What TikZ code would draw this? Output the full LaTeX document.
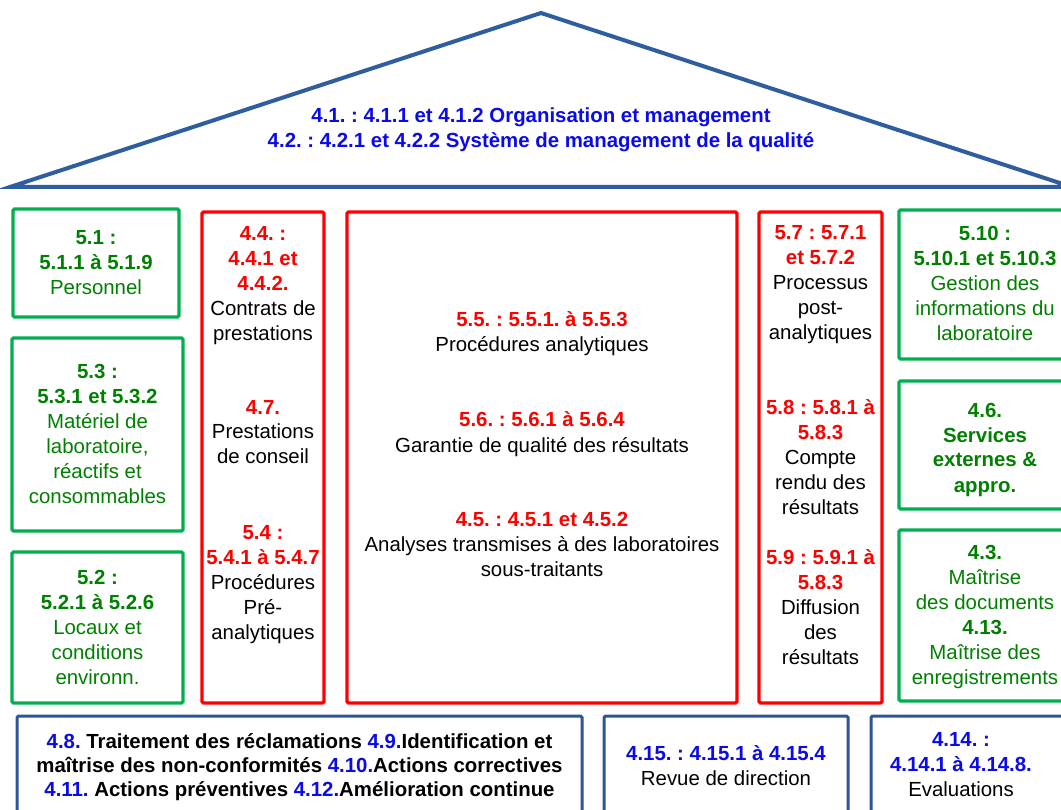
\documentclass[tikz,border=0pt]{standalone}
\usepackage{fontspec}
\setmainfont{Liberation Sans}
\frenchspacing
\definecolor{roofline}{RGB}{46,94,160}
\definecolor{bline}{RGB}{47,85,151}
\definecolor{gline}{RGB}{0,176,80}
\definecolor{gtext}{RGB}{0,128,0}
\definecolor{rtext}{RGB}{255,0,0}
\definecolor{btext}{RGB}{10,10,235}
\newcommand\redb[1]{{\color{rtext}\bfseries #1}}
\newcommand\grnb[1]{{\bfseries #1}}
\newcommand\blub[1]{{\color{btext}#1}}
\begin{document}
\begin{tikzpicture}[x=1pt,y=-1pt,
  framebox/.style={draw, line width=3.3pt, rounded corners=1.5pt, inner sep=0pt},
  gbox/.style={framebox, draw=gline},
  rbox/.style={framebox, draw=rtext},
  bbox/.style={framebox, draw=bline, line width=3pt},
  roof/.style={draw=roofline, line width=4pt},
  txt/.style={anchor=base, align=center, inner sep=0pt, font=\fontsize{20.4}{25}\selectfont\frenchspacing},
  btxt/.style={txt, font=\fontsize{20.4}{25}\selectfont\bfseries\frenchspacing},
  gtxt/.style={txt, text=gtext},
  ktxt/.style={txt, text=black}]
\clip (0,0) rectangle (1061,810);
\fill[white] (0,0) rectangle (1061,810);

% roof
\coordinate (apex) at (541,13);
\coordinate (bl) at (10,187);
\coordinate (br) at (1072,187);
\draw[roof] (apex) -- (bl) -- (br) -- cycle;
\node[btxt, text=btext] (rooftxt) at (541,148) {4.1. : 4.1.1 et 4.1.2 Organisation et management\\4.2. : 4.2.1 et 4.2.2 Système de management de la qualité};

% left green column
\node[gbox, minimum width=166, minimum height=108] (b51) at (96,263) {};
\node[gtxt] (t51) at (96,295) {\grnb{5.1 :}\\\grnb{5.1.1 à 5.1.9}\\Personnel};
\node[gbox, minimum width=171, minimum height=193] (b53) at (97.5,434.5) {};
\node[gtxt] (t53) at (97.5,503) {\grnb{5.3 :}\\\grnb{5.3.1 et 5.3.2}\\Matériel de\\laboratoire,\\réactifs et\\consommables};
\node[gbox, minimum width=171, minimum height=151] (b52) at (97.5,627.5) {};
\node[gtxt] (t52) at (97.5,684) {\grnb{5.2 :}\\\grnb{5.2.1 à 5.2.6}\\Locaux et\\conditions\\environn.};

% red column 1
\node[rbox, minimum width=122, minimum height=491] (r1) at (263,457.5) {};
\node[ktxt] (t44) at (263,341) {\redb{4.4. :}\\\redb{4.4.1 et}\\\redb{4.4.2.}\\Contrats de\\prestations};
\node[ktxt] (t47) at (263,464) {\redb{4.7.}\\Prestations\\de conseil};
\node[ktxt] (t54) at (263,639) {\redb{5.4 :}\\\redb{5.4.1 à 5.4.7}\\Procédures\\Pré-\\analytiques};

% red middle
\node[rbox, minimum width=390, minimum height=491] (rm) at (542,457.5) {};
\node[ktxt] (t55) at (542,352) {\redb{5.5. : 5.5.1. à 5.5.3}\\Procédures analytiques};
\node[ktxt] (t56) at (542,452) {\redb{5.6. : 5.6.1 à 5.6.4}\\Garantie de qualité des résultats};
\node[ktxt] (t45) at (542,576) {\redb{4.5. : 4.5.1 et 4.5.2}\\Analyses transmises à des laboratoires\\sous-traitants};

% red column 2
\node[rbox, minimum width=123, minimum height=491] (r2) at (820.5,457.5) {};
\node[ktxt] (t57) at (820.5,340) {\redb{5.7 : 5.7.1}\\\redb{et 5.7.2}\\Processus\\post-\\analytiques};
\node[ktxt] (t58) at (820.5,514) {\redb{5.8 : 5.8.1 à}\\\redb{5.8.3}\\Compte\\rendu des\\résultats};
\node[ktxt] (t59) at (820.5,664) {\redb{5.9 : 5.9.1 à}\\\redb{5.8.3}\\Diffusion\\des\\résultats};

% right green column
\node[gbox, minimum width=172, minimum height=149] (g510) at (985,284.5) {};
\node[gtxt] (t510) at (985,341) {\grnb{5.10 :}\\\grnb{5.10.1 et 5.10.3}\\Gestion des\\informations du\\laboratoire};
\node[gbox, minimum width=172, minimum height=128] (g46) at (985,445) {};
\node[btxt, text=gtext] (t46) at (985,492) {4.6.\\Services\\externes \&\\appro.};
\node[gbox, minimum width=172, minimum height=171] (g43) at (985,615.5) {};
\node[gtxt] (t43) at (985,684) {\grnb{4.3.}\\Maîtrise\\des documents\\\grnb{4.13.}\\Maîtrise des\\enregistrements};

% bottom blue boxes
\node[bbox, minimum width=565, minimum height=114] (bb1) at (299.5,773) {};
\node[btxt, text=black, font=\fontsize{20.4}{24}\selectfont\bfseries\frenchspacing] (t48) at (299.5,796) {\blub{4.8.} Traitement des réclamations \blub{4.9.}Identification et\\maîtrise des non-conformités \blub{4.10.}Actions correctives\\\blub{4.11.} Actions préventives \blub{4.12.}Amélioration continue};
\node[bbox, minimum width=244, minimum height=114] (bb2) at (726,773) {};
\node[ktxt] (t415) at (726,785) {{\color{btext}\bfseries 4.15. : 4.15.1 à 4.15.4}\\Revue de direction};
\node[bbox, minimum width=200, minimum height=114] (bb3) at (971,773) {};
\node[ktxt] (t414) at (961,796) {{\color{btext}\bfseries 4.14. :}\\{\color{btext}\bfseries 4.14.1 à 4.14.8.}\\Evaluations};
\end{tikzpicture}
\end{document}
